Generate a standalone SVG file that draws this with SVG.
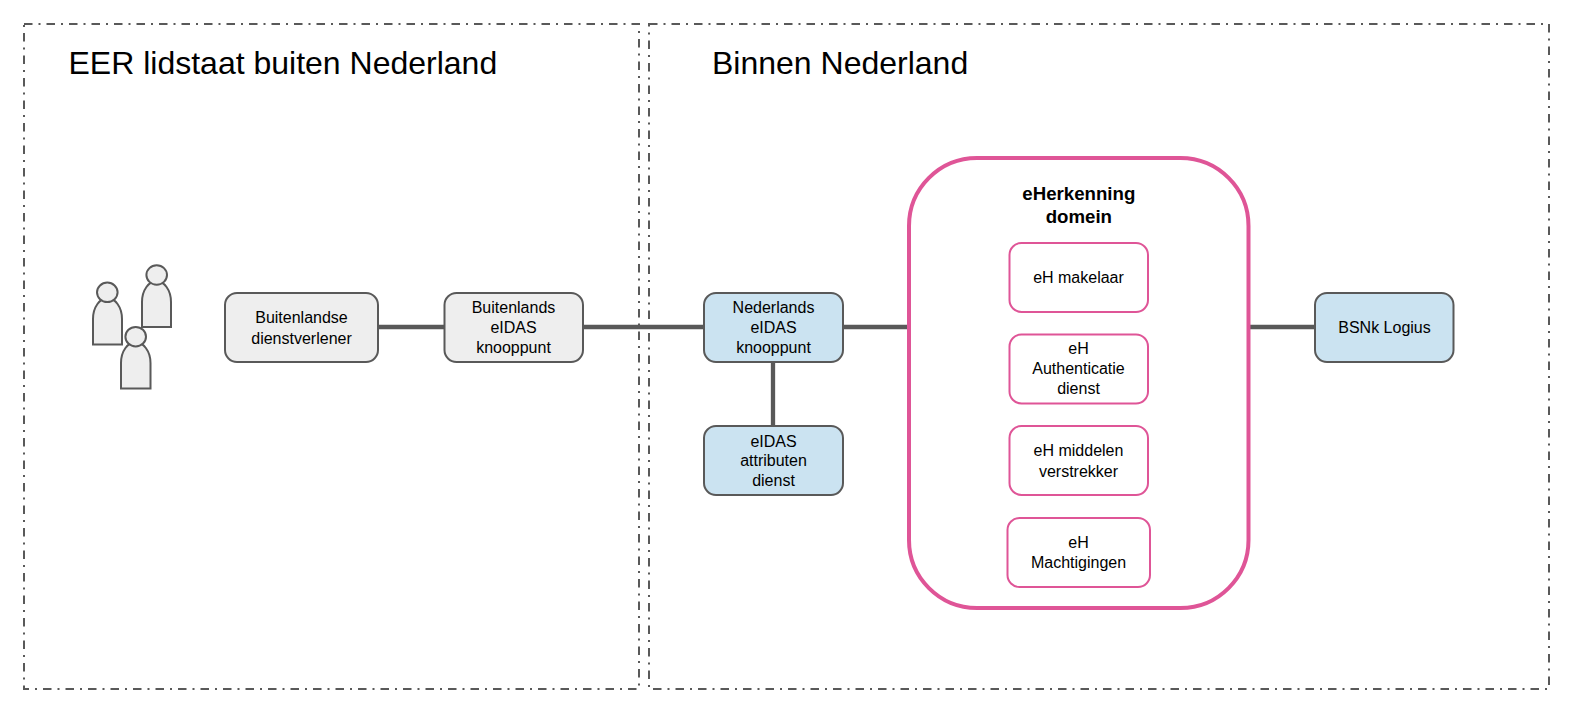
<svg xmlns="http://www.w3.org/2000/svg" width="1575" height="712" viewBox="0 0 1575 712">
<style>
text{font-family:"Liberation Sans",Arial,sans-serif;font-size:16px;fill:#000;text-anchor:middle}
.title{font-size:32px;text-anchor:start}
.head{font-size:18.670px;font-weight:bold}
.region{fill:none;stroke:#595959;stroke-width:2;stroke-dasharray:8.500 6 2 6}
.grey{fill:#eeeeee;stroke:#595959;stroke-width:2}
.blue{fill:#cbe3f1;stroke:#595959;stroke-width:2}
.pink{fill:#fff;stroke:#df5597;stroke-width:2}
.conn{stroke:#595959;stroke-width:4.300;fill:none}
</style>
<rect width="1575" height="712" fill="#fff"/>
<g id="region-eer"><rect class="region" x="24" y="24" width="615" height="665"/><text class="title" x="68.500" y="74">EER lidstaat buiten Nederland</text></g>
<g id="region-nl"><rect class="region" x="649" y="24" width="900" height="665"/><text class="title" x="712" y="74">Binnen Nederland</text></g>
<g id="connectors">
<path class="conn" d="M378 327H444M583 327H704M843 327H909M1248 327H1315M773 362V427"/>
</g>
<g id="users">
<path class="grey" d="M142 327V302C142 290 149 281 156.500 281C164 281 171 290 171 302V327Z"/><ellipse class="grey" cx="156.700" cy="275" rx="10.300" ry="9.700"/>
<path class="grey" d="M93 344.500V319C93 307 100 298 107.500 298C115 298 122 307 122 319V344.500Z"/><ellipse class="grey" cx="107.300" cy="292.300" rx="10.300" ry="9.700"/>
<path class="grey" d="M121 388.500V363C121 351 128 342 135.700 342C143 342 150.500 351 150.500 363V388.500Z"/><ellipse class="grey" cx="135.700" cy="336.700" rx="10.300" ry="9.700"/>
</g>
<g id="buitenlandse-dienstverlener"><rect class="grey" x="225" y="293" width="153" height="69" rx="12"/><text x="301.500" y="322.500">Buitenlandse</text><text x="301.500" y="343.500">dienstverlener</text></g>
<g id="buitenlands-knooppunt"><rect class="grey" x="444.500" y="293" width="138.500" height="69" rx="12"/><text x="513.500" y="313">Buitenlands</text><text x="513.500" y="333">eIDAS</text><text x="513.500" y="352.500">knooppunt</text></g>
<g id="nederlands-knooppunt"><rect class="blue" x="704" y="293" width="139" height="69" rx="12"/><text x="773.500" y="313">Nederlands</text><text x="773.500" y="333">eIDAS</text><text x="773.500" y="352.500">knooppunt</text></g>
<g id="attributen"><rect class="blue" x="704" y="426" width="139" height="69" rx="12"/><text x="773.500" y="446.500">eIDAS</text><text x="773.500" y="466">attributen</text><text x="773.500" y="486">dienst</text></g>
<g id="eherkenning"><rect x="909" y="158" width="339.500" height="450" rx="68" fill="#fff" stroke="#df5597" stroke-width="4"/><text class="head" x="1078.800" y="200">eHerkenning</text><text class="head" x="1078.800" y="223">domein</text></g>
<g id="makelaar"><rect class="pink" x="1009.500" y="243" width="138.500" height="69" rx="12"/><text x="1078.500" y="283">eH makelaar</text></g>
<g id="authenticatie"><rect class="pink" x="1009.500" y="334.500" width="138.500" height="69" rx="12"/><text x="1078.500" y="354">eH</text><text x="1078.500" y="374">Authenticatie</text><text x="1078.500" y="394">dienst</text></g>
<g id="middelen"><rect class="pink" x="1009.500" y="426" width="138.500" height="69" rx="12"/><text x="1078.500" y="456">eH middelen</text><text x="1078.500" y="477">verstrekker</text></g>
<g id="machtigingen"><rect class="pink" x="1007.500" y="518" width="142.500" height="69" rx="12"/><text x="1078.500" y="548">eH</text><text x="1078.500" y="568">Machtigingen</text></g>
<g id="bsnk"><rect class="blue" x="1315" y="293" width="138.500" height="69" rx="12"/><text x="1384.500" y="332.500">BSNk Logius</text></g>
</svg>
